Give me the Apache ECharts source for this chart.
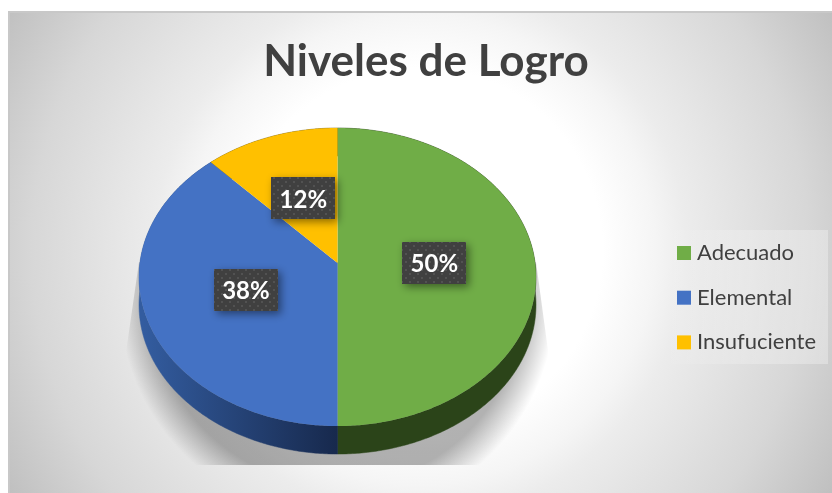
<!DOCTYPE html>
<html><head><meta charset="utf-8">
<style>html,body{margin:0;padding:0;background:#fff}#c{width:832px;height:493px}</style>
<script src="https://cdn.jsdelivr.net/npm/echarts@6/dist/echarts.min.js"></script>
</head><body><div id="c"></div>
<script>
const categories = ['Adecuado', 'Elemental', 'Insufuciente'];
const values = [50, 38, 12];
const colors = ['#70AD47', '#4472C4', '#FFC000'];
const titleText = 'Niveles de Logro';

const CX = 337.5, CY = 263, A = 197.6, B = 147.7, K = -0.094, DEPTH = 28;
const total = values.reduce((s, v) => s + v, 0);

function project(theta, r) {
  const x = r * Math.sin(theta), y = -r * Math.cos(theta), d = 1 + K * y;
  return [CX + A * x / d, CY + B * y / d];
}
function arcPoints(t0, t1) {
  const n = Math.max(2, Math.ceil((t1 - t0) / 0.01)), pts = [];
  for (let i = 0; i <= n; i++) pts.push(project(t0 + (t1 - t0) * i / n, 1));
  return pts;
}
const dots = document.createElement('canvas');
dots.width = 8; dots.height = 8;
(function () {
  const g = dots.getContext('2d');
  g.fillStyle = '#404040'; g.fillRect(0, 0, 8, 8);
  g.fillStyle = '#525252'; g.fillRect(1, 1, 2, 2);
  g.fillRect(5, 5, 2, 2);
})();

const sideStyles = [
  '#2B4419',
  { type: 'linear', global: true, x: 143, y: 0, x2: 337, y2: 0,
    colorStops: [{ offset: 0, color: '#335C9F' }, { offset: 1, color: '#17294D' }] },
  '#7F6000'
];

function makeRender(idx) {
  return function (params, api) {
    const value = api.value(0);
    const before = values.slice(0, idx).reduce((s, v) => s + v, 0);
    const t0 = before / total * 2 * Math.PI;
    const t1 = (before + value) / total * 2 * Math.PI;
    const arc = arcPoints(t0, t1);
    const lower = arc.slice().reverse().map(p => [p[0], p[1] + DEPTH]);
    const mid = project((t0 + t1) / 2, 0.49);
    const bw = 64, bh = 42;
    return {
      type: 'group',
      children: [
        { type: 'polygon', z2: 1, shape: { points: arc.concat(lower) },
          style: { fill: sideStyles[idx], stroke: sideStyles[idx], lineWidth: 0.5 } },
        { type: 'polygon', z2: 2, shape: { points: [[CX, CY]].concat(arc) },
          style: { fill: colors[idx] } },
        { type: 'rect', z2: 3, shape: { x: Math.round(mid[0] - bw / 2), y: Math.round(mid[1] - bh / 2), width: bw, height: bh },
          style: { fill: { image: dots, repeat: 'repeat' }, shadowBlur: 8, shadowOffsetX: 3, shadowOffsetY: 3, shadowColor: 'rgba(0,0,0,0.45)' } },
        { type: 'text', z2: 4, x: mid[0], y: mid[1] + 1.5,
          style: { text: value + '%', fill: '#fff', font: 'bold 24px Lato', align: 'center', verticalAlign: 'middle' } }
      ]
    };
  };
}

const series = categories.map((name, i) => ({
  name, type: 'custom', coordinateSystem: 'none', silent: true, animation: false,
  itemStyle: { color: colors[i] },
  renderItem: makeRender(i),
  data: [[values[i]]]
}));

const chart = echarts.init(document.getElementById('c'), null, { renderer: 'canvas' });
chart.setOption({
  animation: false,
  title: { text: titleText, left: 421, top: 35, textAlign: 'center',
    textStyle: { fontFamily: 'Lato', fontSize: 44, fontWeight: 'bold', color: '#404040' } },
  legend: {
    orient: 'vertical', left: 661, top: 230, itemWidth: 14, itemHeight: 14, itemGap: 22.7,
    padding: [12, 12, 10.6, 16],
    backgroundColor: { type: 'linear', x: 0, y: 0, x2: 1, y2: 0,
      colorStops: [{ offset: 0, color: 'rgba(255,255,255,0)' }, { offset: 0.5, color: 'rgba(255,255,255,0.22)' }, { offset: 1, color: 'rgba(255,255,255,0.3)' }] },
    icon: 'rect', selectedMode: false, data: categories,
    textStyle: { fontFamily: 'Lato', fontSize: 22, color: '#404040', padding: [0, 0, 0, 1] }
  },
  graphic: [
    { type: 'rect', z: -10, shape: { x: 9, y: 12, width: 840, height: 500 },
      style: { fill: { type: 'radial', global: true, x: 420, y: 250, r: 480,
        colorStops: [{ offset: 0, color: '#fff' }, { offset: 0.38, color: '#fff' }, { offset: 0.49, color: '#f5f5f5' },
          { offset: 0.555, color: '#ececec' }, { offset: 0.81, color: '#d7d7d7' }, { offset: 1, color: '#bfbfbf' }] },
        stroke: '#c8c8c8', lineWidth: 2 } },
    { type: 'polygon', z: -5, shape: { points: [[139, 262], [536, 262], [552, 380], [552, 465], [122, 465], [122, 380]] },
      style: { fill: { type: 'radial', global: true, x: 337.5, y: 300, r: 218,
        colorStops: [{ offset: 0, color: 'rgba(0,0,0,0.3)' }, { offset: 0.85, color: 'rgba(0,0,0,0.3)' },
          { offset: 0.92, color: 'rgba(0,0,0,0.16)' }, { offset: 1, color: 'rgba(0,0,0,0)' }] } } }
  ],
  series
});
</script></body></html>
